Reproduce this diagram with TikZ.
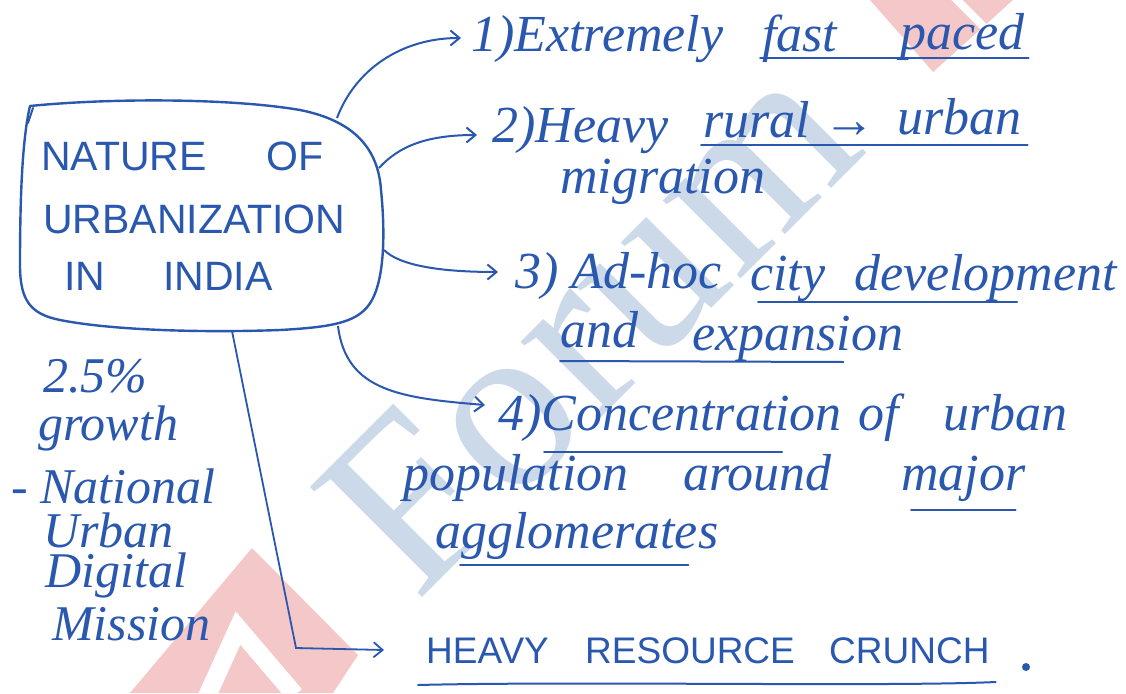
\documentclass[tikz,border=0pt]{standalone}
\usepackage{fontspec}
\usetikzlibrary{arrows.meta}
\setmainfont{Liberation Serif}
\newfontfamily\capsfont{Liberation Sans}
\newfontfamily\wmfont{Liberation Serif}
\definecolor{ink}{RGB}{42,88,175}
\definecolor{wmblue}{RGB}{204,217,233}
\definecolor{wmred}{RGB}{244,200,200}
\tikzset{
  hand/.style={text=ink, inner sep=0pt, anchor=base west, font=\fontsize{52}{60}\selectfont\itshape},
  note/.style={hand, font=\fontsize{50}{58}\selectfont\itshape},
  caps/.style={text=ink, inner sep=0pt, anchor=base west, font=\capsfont\fontsize{41}{48}\selectfont},
  capsb/.style={caps, font=\capsfont\fontsize{37}{44}\selectfont},
  link/.style={draw=ink, line width=2pt, -{Straight Barb[length=9pt,width=15pt]}},
  uline/.style={draw=ink, line width=2pt, line cap=round},
  wm/.style={text=wmblue, font=\wmfont\fontsize{240}{240}\selectfont, inner sep=0pt},
}
\begin{document}
\begin{tikzpicture}[x=1pt,y=-1pt]
\useasboundingbox[fill=white] (0,0) rectangle (1126,693);

% faint logo in the background
\fill[wmred] (252,548) -- (358,655) -- (333,693) -- (130,693) -- cycle;
\begin{scope}
  \clip (252,548) -- (358,655) -- (333,693) -- (130,693) -- cycle;
  \draw[white, line width=18pt, line join=miter] (203,705) -- (238,628) -- (295,695);
\end{scope}
\fill[wmred] (870,0) -- (1013,0) -- (933,72) -- cycle;
\begin{scope}
  \clip (870,0) -- (1013,0) -- (933,72) -- cycle;
  \draw[white, line width=8pt] (952,-5) -- (992,35);
\end{scope}
\node[wm, rotate=45] (wmark) at (588,322) {Forum};

% central topic
\node[minimum width=364pt, minimum height=232pt, inner sep=0pt] (hub) at (201,215) {};
\begin{scope}[shift={(hub.center)}]
  \draw[ink, line width=2.4pt, line join=round]
    (-171,-109) .. controls (-91,-117) and (29,-117) .. (99,-105)
    .. controls (149,-95) and (177,-70) .. (180,-25)
    .. controls (185,25) and (182,65) .. (171,85)
    .. controls (159,107) and (134,112) .. (79,115)
    .. controls (-1,118) and (-91,115) .. (-141,105)
    .. controls (-171,99) and (-181,85) .. (-181,50)
    .. controls (-181,-15) and (-179,-75) .. cycle;
  \draw[ink, line width=2pt, line cap=round] (-173,-92) -- (-168,-107);
\end{scope}
\node[caps] (nat) at (41,170) {NATURE};
\node[caps] (natof) at (266,170) {OF};
\node[caps] (urbz) at (43,233) {URBANIZATION};
\node[caps] (in) at (64,290) {IN};
\node[caps] (india) at (163,290) {INDIA};

% side note
\node[note] (n1) at (43,392) {2.5\%};
\node[note] (n2) at (38,440) {growth};
\node[note] (n3) at (11,503) {- National};
\node[note] (n4) at (43,547) {Urban};
\node[note] (n5) at (45,587) {Digital};
\node[note] (n6) at (52,640) {Mission};

% branch 1
\node[hand] (t1) at (471,52) {1)Extremely};
\node[hand] (fast) at (762,52) {fast};
\node[hand] (paced) at (900,50) {paced};
% branch 2
\node[hand] (t2) at (492,142) {2)Heavy};
\node[hand] (rural) at (703,137) {rural →};
\node[hand] (urbanb) at (897,134) {urban};
\node[hand] (migr) at (560,193) {migration};
% branch 3
\node[hand] (t3) at (515,288) {3) Ad-hoc};
\node[hand] (city) at (750,290) {city};
\node[hand] (devel) at (854,290) {development};
\node[hand] (and) at (560,347) {and};
\node[hand] (expan) at (692,350) {expansion};
% branch 4
\node[hand] (t4) at (498,430) {4)Concentration};
\node[hand] (of) at (858,430) {of};
\node[hand] (urbanc) at (943,430) {urban};
\node[hand] (popul) at (403,490) {population};
\node[hand] (around) at (683,490) {around};
\node[hand] (major) at (901,490) {major};
\node[hand] (agglo) at (435,548) {agglomerates};
% branch 5
\node[capsb] (t5) at (426,663) {HEAVY};
\node[capsb] (res) at (585,663) {RESOURCE};
\node[capsb] (crunch) at (829,663) {CRUNCH};
\node[circle, fill=ink, inner sep=0pt, minimum size=8pt] (dot) at (1026,667) {};

% underlines
\draw[uline] ([shift={(-2,6)}]fast.base west) -- ([shift={(4,8)}]paced.base east);
\draw[uline] ([shift={(-2,8)}]rural.base west) -- ([shift={(6,11)}]urbanb.base east);
\draw[uline] ([shift={(8,12)}]city.base west) -- ([shift={(-100,12)}]devel.base east);
\draw[uline] ([shift={(0,14)}]and.base west) -- ([shift={(-60,12)}]expan.base east);
\draw[uline] ([shift={(46,22)}]t4.base west) -- ([shift={(-60,22)}]t4.base east);
\draw[uline] ([shift={(10,20)}]major.base west) -- ([shift={(-10,20)}]major.base east);
\draw[uline] ([shift={(25,17)}]agglo.base west) -- ([shift={(-30,17)}]agglo.base east);
\draw[uline] ([shift={(-8,22)}]t5.base west) .. controls ([shift={(150,18)}]t5.base west) and ([shift={(-100,24)}]crunch.base east) .. ([shift={(6,19)}]crunch.base east);

% connectors
\draw[link] ([shift={(136,-97)}]hub.center) .. controls +(18,-48) and +(-60,0) .. ([shift={(-10,-14)}]t1.base west);
\draw[link] ([shift={(178,-47)}]hub.center) .. controls +(20,-22) and +(-50,0) .. ([shift={(-15,-7)}]t2.base west);
\draw[link] ([shift={(183,35)}]hub.center) .. controls +(15,15) and +(-60,0) .. ([shift={(-17,-16)}]t3.base west);
\draw[link] ([shift={(137,111)}]hub.center) .. controls +(8,65) and +(-85,-7) .. ([shift={(-13,-25)}]t4.base west);
\coordinate (bend5) at (296,648);
\draw[link, line width=1.8pt] ([shift={(31,116)}]hub.center) -- (bend5) -- ([shift={(-42,-13)}]t5.base west);
\end{tikzpicture}
\end{document}
